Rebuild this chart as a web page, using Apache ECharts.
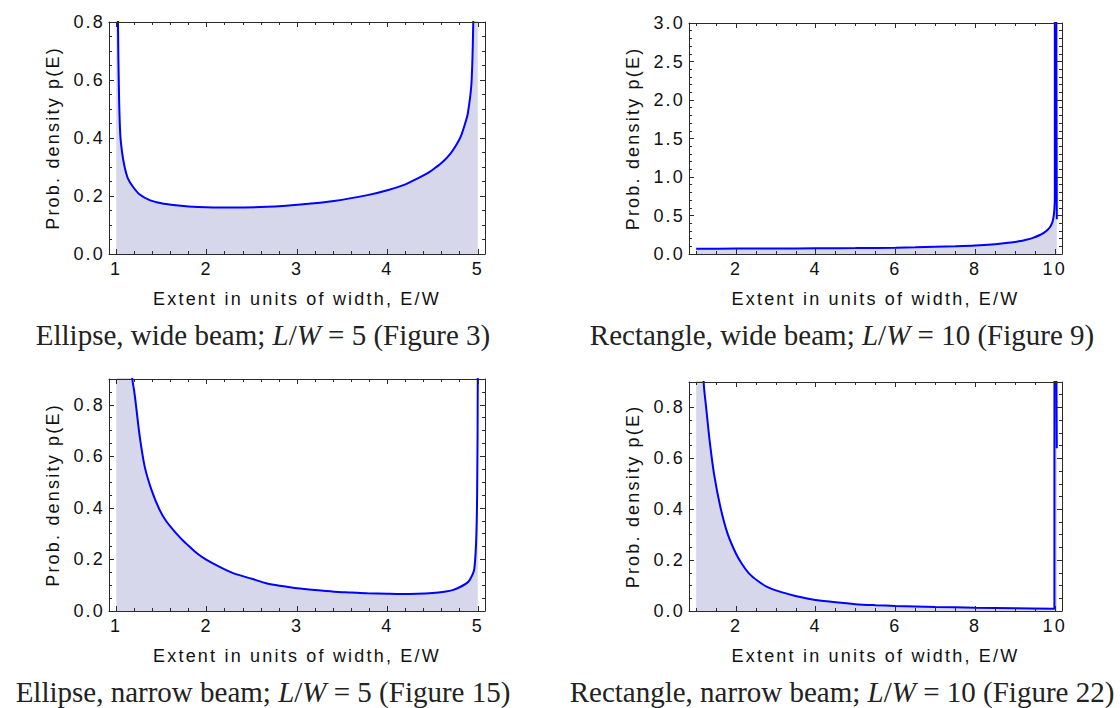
<!DOCTYPE html>
<html>
<head>
<meta charset="utf-8">
<script src="https://cdn.jsdelivr.net/npm/echarts@6/dist/echarts.min.js"></script>
<style>
html,body{margin:0;padding:0;background:#fff;}
#chart{width:1120px;height:708px;}
#chart text[style*="Liberation Sans"]{letter-spacing:2.2px;}
</style>
</head>
<body>
<div id="chart"></div>
<script>
// ---------------- data ----------------
// Ellipse, wide beam (L/W = 5)
const ellipseWideE = [1.0, 1.01, 1.019, 1.03, 1.044, 1.065, 1.093, 1.13, 1.185, 1.26, 1.37, 1.5, 1.63, 1.8, 2.0, 2.3, 2.67, 3.04, 3.41, 3.78, 4.0, 4.2, 4.33, 4.45, 4.52, 4.62, 4.70, 4.76, 4.81, 4.86, 4.89, 4.93, 4.95, 4.97, 5.0];
const ellipseWideP = [50, 1.3, 0.80, 0.56, 0.416, 0.35, 0.30, 0.26, 0.232, 0.205, 0.186, 0.175, 0.169, 0.164, 0.161, 0.160, 0.163, 0.171, 0.183, 0.203, 0.22, 0.24, 0.26, 0.28, 0.295, 0.32, 0.347, 0.375, 0.404, 0.45, 0.485, 0.588, 0.80, 1.3, 50];

// Rectangle, wide beam (L/W = 10)
const rectWideE = [1.0, 2.0, 3.0, 4.0, 5.0, 6.0, 6.5, 7.0, 7.5, 8.0, 8.5, 8.83, 9.1, 9.28, 9.45, 9.64, 9.74, 9.82, 9.88, 9.93, 9.96, 9.98, 9.99, 10.0, 10.0, 10.035, 10.05];
const rectWideP = [0.069, 0.070, 0.072, 0.074, 0.077, 0.082, 0.087, 0.093, 0.10, 0.11, 0.128, 0.145, 0.165, 0.185, 0.21, 0.25, 0.28, 0.315, 0.35, 0.40, 0.46, 0.53, 0.6, 0.7, 50, 4.0, 0.45];

// Ellipse, narrow beam (L/W = 5)
const ellipseNarrowE = [1.0, 1.05, 1.1, 1.15, 1.178, 1.2, 1.22, 1.26, 1.315, 1.39, 1.48, 1.55, 1.63, 1.72, 1.81, 1.9, 2.0, 2.15, 2.3, 2.5, 2.67, 2.85, 3.0, 3.2, 3.41, 3.6, 3.78, 4.0, 4.15, 4.33, 4.5, 4.63, 4.73, 4.81, 4.87, 4.91, 4.94, 4.96, 4.975, 4.985, 4.993, 5.0, 5.0];
const ellipseNarrowP = [50, 2.5, 1.45, 1.05, 0.90, 0.85, 0.794, 0.677, 0.56, 0.47, 0.392, 0.35, 0.315, 0.28, 0.25, 0.222, 0.198, 0.17, 0.146, 0.125, 0.107, 0.096, 0.088, 0.081, 0.075, 0.072, 0.069, 0.067, 0.066, 0.067, 0.07, 0.075, 0.082, 0.094, 0.106, 0.12, 0.14, 0.16, 0.22, 0.30, 0.45, 0.9, 50];

// Rectangle, narrow beam (L/W = 10)
const rectNarrowE = [1.0, 1.05, 1.1, 1.15, 1.19, 1.25, 1.34, 1.45, 1.61, 1.79, 2.0, 2.15, 2.33, 2.55, 2.78, 3.1, 3.42, 3.7, 4.0, 4.5, 5.0, 5.5, 6.0, 7.0, 8.0, 9.0, 9.99, 10.0, 10.01, 10.03, 10.05];
const rectNarrowP = [50, 3.2, 1.7, 1.15, 0.895, 0.80, 0.667, 0.537, 0.407, 0.303, 0.225, 0.185, 0.147, 0.118, 0.095, 0.076, 0.062, 0.052, 0.043, 0.034, 0.027, 0.023, 0.020, 0.016, 0.013, 0.011, 0.009, 50, 5, 1.3, 0.64];

// tick labels
const ellipseXTicks = [1, 2, 3, 4, 5];
const rectXTicks = [2, 4, 6, 8, 10];
const wideEllipseYTicks = [0, 0.2, 0.4, 0.6, 0.8];
const wideRectYTicks = [0, 0.5, 1.0, 1.5, 2.0, 2.5, 3.0];
const narrowYTicks = [0, 0.2, 0.4, 0.6, 0.8];

const xTitle = 'Extent in units of width, E/W';
const yTitle = 'Prob. density p(E)';
const captions = [
  'Ellipse, wide beam; {i|L}/{i|W} = 5 (Figure 3)',
  'Rectangle, wide beam; {i|L}/{i|W} = 10 (Figure 9)',
  'Ellipse, narrow beam; {i|L}/{i|W} = 5 (Figure 15)',
  'Rectangle, narrow beam; {i|L}/{i|W} = 10 (Figure 22)'
];

// ---------------- layout ----------------
const SANS = 'Liberation Sans';
const SERIF = 'Liberation Serif';
const FRAME = '#2a2a2a';
const panels = [
  { grid: {left:109, top:22, width:376, height:232}, x:[0.92,5.08], y:[0,0.8], xT:ellipseXTicks, xStep:0.2, yT:wideEllipseYTicks, yStep:0.05, E:ellipseWideE, P:ellipseWideP, cap:{x:263, y:320} },
  { grid: {left:689, top:23, width:373, height:231}, x:[0.82,10.18], y:[0,3], xT:rectXTicks, xStep:0.5, yT:wideRectYTicks, yStep:0.1, E:rectWideE, P:rectWideP, cap:{x:842, y:320} },
  { grid: {left:109, top:379, width:376, height:232}, x:[0.92,5.08], y:[0,0.9], xT:ellipseXTicks, xStep:0.2, yT:narrowYTicks, yStep:0.05, E:ellipseNarrowE, P:ellipseNarrowP, cap:{x:263, y:677} },
  { grid: {left:689, top:382, width:373, height:229}, x:[0.82,10.18], y:[0,0.9], xT:rectXTicks, xStep:0.5, yT:narrowYTicks, yStep:0.05, E:rectNarrowE, P:rectNarrowP, cap:{x:842, y:677} }
];

function minorTicks(min, max, step, majors) {
  const out = [];
  const k0 = Math.ceil(min / step - 1e-9);
  for (let k = k0; k * step <= max + 1e-9; k++) {
    const v = +(k * step).toFixed(4);
    if (!majors.some(m => Math.abs(m - v) < 1e-9)) out.push(v);
  }
  return out;
}

function axis(gi, range, pos, ticks, len, showLine, label, extra) {
  const a = {
    type: 'value', gridIndex: gi, min: range[0], max: range[1], position: pos, z: 5,
    axisLine: { show: showLine, onZero: false, lineStyle: { color: FRAME, width: 1 } },
    axisTick: { show: true, inside: true, length: len, customValues: ticks, lineStyle: { color: FRAME, width: 1 } },
    axisLabel: { show: false },
    splitLine: { show: false },
    minorTick: { show: false }
  };
  if (label) {
    a.axisLabel = {
      show: true, customValues: ticks, formatter: label.fmt, margin: label.margin,
      fontFamily: SANS, fontSize: 18, color: '#111'
    };
  }
  return Object.assign(a, extra || {});
}

const xAxes = [], yAxes = [], grids = [], series = [], titles = [];
panels.forEach((p, gi) => {
  grids.push(Object.assign({ containLabel: false, outerBoundsMode: 'none' }, p.grid));
  const xMinor = minorTicks(p.x[0], p.x[1], p.xStep, p.xT);
  const yMinor = minorTicks(p.y[0], p.y[1], p.yStep, p.yT);
  const nameStyle = { fontFamily: SANS, fontSize: 18, color: '#111' };
  xAxes.push(axis(gi, p.x, 'bottom', p.xT, 5, true, { fmt: v => String(Math.round(v)), margin: 6 },
    { name: xTitle, nameLocation: 'middle', nameGap: 36, nameTextStyle: nameStyle }));
  xAxes.push(axis(gi, p.x, 'bottom', xMinor, 3, false));
  xAxes.push(axis(gi, p.x, 'top', p.xT, 5, true));
  xAxes.push(axis(gi, p.x, 'top', xMinor, 3, false));
  yAxes.push(axis(gi, p.y, 'left', p.yT, 5, true, { fmt: v => v.toFixed(1), margin: 4 },
    { name: yTitle, nameLocation: 'middle', nameGap: 47, nameTextStyle: nameStyle }));
  yAxes.push(axis(gi, p.y, 'left', yMinor, 3, false));
  yAxes.push(axis(gi, p.y, 'right', p.yT, 5, true));
  yAxes.push(axis(gi, p.y, 'right', yMinor, 3, false));
  series.push({
    type: 'line', xAxisIndex: 4 * gi, yAxisIndex: 4 * gi,
    data: p.E.map((e, i) => [e, p.P[i]]),
    showSymbol: false, symbol: 'none', clip: true, silent: true, z: 2,
    smooth: 0.3,
    lineStyle: { color: '#0000ff', width: 2 },
    areaStyle: { color: '#d7d7eb', opacity: 1 }
  });
  titles.push({
    text: captions[gi], left: p.cap.x, top: p.cap.y, textAlign: 'center', padding: 0,
    textStyle: {
      fontFamily: SERIF, fontSize: 29, fontWeight: 'normal', color: '#222',
      rich: { i: { fontFamily: SERIF, fontSize: 29, fontStyle: 'italic', color: '#222' } }
    }
  });
});

const chart = echarts.init(document.getElementById('chart'), null, { renderer: 'svg' });
chart.setOption({
  animation: false,
  backgroundColor: '#fff',
  title: titles,
  grid: grids,
  xAxis: xAxes,
  yAxis: yAxes,
  series: series
});
</script>
</body>
</html>
